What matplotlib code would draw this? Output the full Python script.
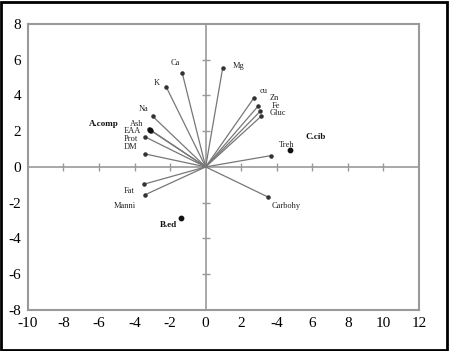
import matplotlib.pyplot as plt
import numpy as np
from matplotlib.patches import Rectangle

plt.rcParams['font.family'] = ['Liberation Serif', 'DejaVu Serif']
plt.rcParams['axes.unicode_minus'] = False

# Variable vectors (endpoints)
variables = ["Ca", "K", "Na", "Ash", "EAA", "Prot", "DM", "Mg", "cu", "Zn",
             "Fe", "Gluc", "Treh", "Fat", "Manni", "Carbohy"]
var_x = np.array([-1.32, -2.22, -2.98, -3.18, -3.07, -3.39, -3.43, 0.96, 2.73, 2.96,
                  3.07, 3.12, 3.67, -3.48, -3.43, 3.52])
var_y = np.array([5.26, 4.48, 2.83, 2.12, 2.02, 1.67, 0.73, 5.54, 3.88, 3.41,
                  3.11, 2.83, 0.63, -0.97, -1.57, -1.69])
# label positions
lab_x = np.array([-1.69, -2.77, -3.50, -3.86, -4.14, -4.20, -4.24, 1.85, 3.26, 3.86,
                  3.94, 4.05, 4.54, -4.29, -4.54, 4.54])
lab_y = np.array([5.79, 4.72, 3.26, 2.42, 2.01, 1.58, 1.11, 5.63, 4.27, 3.86,
                  3.42, 3.02, 1.20, -1.33, -2.17, -2.17])

# Sample scores
samples = ["A.comp", "B.ed", "C.cib"]
samp_x = np.array([-3.12, -1.39, 4.75])
samp_y = np.array([2.07, -2.88, 0.96])
samp_lab_x = np.array([-5.71, -2.07, 6.18])
samp_lab_y = np.array([2.38, -3.26, 1.70])

xticks = [-10, -8, -6, -4, -2, 0, 2, 4, 6, 8, 10, 12]
xtick_labels = ["-10", "-8", "-6", "-4", "-2", "0", "2", "-4", "6", "8", "10", "12"]
yticks = [-8, -6, -4, -2, 0, 2, 4, 6, 8]
center_xticks = [-8, -6, -4, -2, 2, 4, 6, 8, 10]
center_yticks = [-6, -4, -2, 2, 4, 6]

fig = plt.figure(figsize=(4.5, 3.51), dpi=100)
ax = fig.add_axes([0.062, 0.117, 0.869, 0.815])

ax.axhline(0, color='#999999', lw=1.2, zorder=1)
ax.axvline(0, color='#999999', lw=1.2, zorder=1)
ax.plot(center_xticks, np.zeros(len(center_xticks)), ls='none', marker='|',
        ms=6, mew=1.0, color='#999999', zorder=1)
ax.plot(np.zeros(len(center_yticks)), center_yticks, ls='none', marker='_',
        ms=6, mew=1.0, color='#999999', zorder=1)

for x, y in zip(var_x, var_y):
    ax.plot([0, x], [0, y], color='#777777', lw=0.9, zorder=2)
ax.scatter(var_x, var_y, s=5, color='#333333', zorder=3)
for name, x, y in zip(variables, lab_x, lab_y):
    ax.text(x, y, name, fontsize=6, ha='center', va='center', color='#222222')

ax.scatter(samp_x, samp_y, s=10, color='#111111', zorder=3)
for name, x, y in zip(samples, samp_lab_x, samp_lab_y):
    ax.text(x, y, name, fontsize=6.5, fontweight='bold', ha='center', va='center',
            color='#111111')

ax.set_xlim(-10, 12)
ax.set_ylim(-8, 8)
ax.set_xticks(xticks)
ax.set_xticklabels(xtick_labels)
ax.set_yticks(yticks)
ax.tick_params(length=0, labelsize=11, pad=5)
ax.tick_params(axis='y', pad=5)
for s in ax.spines.values():
    s.set_color('#999999')
    s.set_linewidth(1.5)

fig.patches.append(Rectangle((0.002, 0.003), 0.992, 0.99, transform=fig.transFigure,
                             fill=False, edgecolor='black', lw=2))

fig.savefig('out.png', dpi=100)
